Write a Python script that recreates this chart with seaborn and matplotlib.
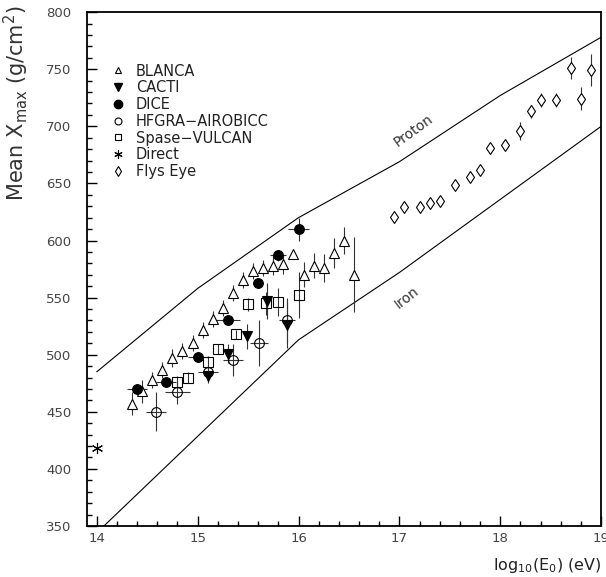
import matplotlib
matplotlib.use('Agg')
import matplotlib.pyplot as plt
import seaborn as sns
from matplotlib.lines import Line2D
from matplotlib.ticker import MultipleLocator

# --- model curves ---
proton_x = [14.0, 15.0, 16.0, 17.0, 18.0, 19.0]
proton_y = [485, 558, 620, 669, 727, 778]
iron_x = [14.0, 16.0, 17.0, 18.0, 19.0]
iron_y = [344, 513, 572, 636, 700]

# --- measurements ---
blanca_x = [14.35, 14.45, 14.55, 14.65, 14.75, 14.85, 14.95, 15.05, 15.15, 15.25, 15.35, 15.45,
            15.55, 15.65, 15.75, 15.85, 15.95, 16.05, 16.15, 16.25, 16.35, 16.45, 16.55]
blanca_y = [457, 468, 478, 487, 497, 503, 510, 522, 531, 541, 554, 565,
            573, 576, 578, 579, 588, 570, 578, 576, 589, 600, 570]
blanca_err = [10, 10, 7, 7, 8, 7, 7, 7, 7, 7, 7, 7,
              7, 7, 8, 8, 3, 11, 11, 12, 13, 12, 33]

cacti_x = [15.10, 15.30, 15.49, 15.69, 15.89]
cacti_y = [481, 501, 516, 547, 526]
cacti_err = [6, 8, 11, 16, 20]

dice_x = [14.40, 14.69, 15.00, 15.30, 15.60, 15.80, 16.00]
dice_y = [470, 476, 498, 530, 563, 587, 610]
dice_xerr = [0.10, 0.10, 0.10, 0.12, 0.0, 0.08, 0.10]
dice_err = [3, 3, 3, 3, 3, 5, 10]

hegra_x = [14.59, 14.80, 15.10, 15.35, 15.61, 15.89]
hegra_y = [450, 467, 485, 495, 510, 530]
hegra_xerr = [0.10, 0.12, 0.10, 0.10, 0.09, 0.08]
hegra_err = [17, 10, 5, 14, 20, 20]

spase_x = [14.80, 14.90, 15.10, 15.20, 15.38, 15.50, 15.68, 15.80, 16.00]
spase_y = [476, 480, 494, 505, 518, 544, 545, 546, 552]
spase_err = [5, 5, 5, 4, 4, 6, 10, 12, 20]

direct_x = [14.0]
direct_y = [418]

flys_x = [16.95, 17.05, 17.20, 17.30, 17.40, 17.55, 17.70, 17.80, 17.90, 18.05, 18.20, 18.30,
          18.40, 18.55, 18.70, 18.80, 18.90]
flys_y = [621, 629, 629, 633, 635, 649, 656, 662, 681, 684, 696, 713,
          723, 723, 751, 724, 749]
flys_err = [2, 2, 2, 2, 2, 2, 2, 2, 3, 4, 8, 6, 6, 6, 10, 10, 14]

series_labels = ['BLANCA', 'CACTI', 'DICE', 'HFGRA\u2212AIROBICC', 'Spase\u2212VULCAN', 'Direct', 'Flys Eye']

sns.set_style('ticks')
plt.rcParams['font.family'] = ['DejaVu Sans']
plt.rcParams['mathtext.default'] = 'regular'

fig = plt.figure(figsize=(6.06, 5.77), dpi=100)
ax = fig.add_axes([0.143, 0.0884, 0.849, 0.8906])

sns.lineplot(x=proton_x, y=proton_y, sort=False, estimator=None, color='black', lw=0.8, ax=ax)
sns.lineplot(x=iron_x, y=iron_y, sort=False, estimator=None, color='black', lw=0.8, ax=ax)

star = (6, 2, 0)
ebar = dict(ecolor='#333333', elinewidth=0.8, capsize=0, linestyle='none', mec='black', mew=0.8)
ax.errorbar(blanca_x, blanca_y, yerr=blanca_err, fmt='^', ms=7, mfc='white', **ebar)
ax.errorbar(cacti_x, cacti_y, yerr=cacti_err, fmt='v', ms=7, mfc='black', **ebar)
ax.errorbar(hegra_x, hegra_y, xerr=hegra_xerr, yerr=hegra_err, fmt='o', ms=7, mfc='none', **ebar)
ax.errorbar(spase_x, spase_y, yerr=spase_err, fmt='s', ms=6.5, mfc='none', **ebar)
ax.errorbar(dice_x, dice_y, xerr=dice_xerr, yerr=dice_err, fmt='o', ms=7, mfc='black', **ebar)
ax.plot(direct_x, direct_y, marker=star, ms=8, ls='none', mec='black', mew=0.8)
ax.errorbar(flys_x, flys_y, yerr=flys_err, fmt='d', ms=6, mfc='white', **ebar)

ax.text(17.14, 696, 'Proton', rotation=36, ha='center', va='center', fontsize=10, color='#333333')
ax.text(17.07, 550, 'Iron', rotation=38, ha='center', va='center', fontsize=10, color='#333333')

handles = [
    Line2D([], [], marker='^', ls='none', ms=5, mfc='white', mec='black', mew=0.8),
    Line2D([], [], marker='v', ls='none', ms=6, mfc='black', mec='black'),
    Line2D([], [], marker='o', ls='none', ms=6, mfc='black', mec='black'),
    Line2D([], [], marker='o', ls='none', ms=5, mfc='none', mec='black', mew=0.8),
    Line2D([], [], marker='s', ls='none', ms=5, mfc='none', mec='black', mew=0.8),
    Line2D([], [], marker=star, ls='none', ms=6, mec='black', mew=0.8),
    Line2D([], [], marker='d', ls='none', ms=5, mfc='none', mec='black', mew=0.8),
]
ax.legend(handles, series_labels, loc='upper left', bbox_to_anchor=(0.046, 0.9), frameon=False,
          fontsize=10.5, handlelength=1.0, handletextpad=0.75, labelspacing=0.12, borderpad=0,
          borderaxespad=0, labelcolor='#222222')

ax.set_xlim(13.9, 19.0)
ax.set_ylim(350, 800)
ax.xaxis.set_major_locator(MultipleLocator(1))
ax.xaxis.set_minor_locator(MultipleLocator(0.2))
ax.yaxis.set_major_locator(MultipleLocator(50))
ax.yaxis.set_minor_locator(MultipleLocator(10))
ax.tick_params(which='both', direction='in', top=False, right=False, width=1, color='black')
ax.tick_params(which='major', length=7)
ax.tick_params(which='minor', length=3.5)
ax.tick_params(axis='x', which='major', pad=4, labelsize=9.5, labelcolor='#444444')
ax.tick_params(axis='y', which='major', pad=11, labelsize=9.5, labelcolor='#444444')
for s in ax.spines.values():
    s.set_linewidth(1.3)
    s.set_color('black')

ax.set_xlabel(r'log$_{10}$(E$_0$) (eV)', loc='right', fontsize=11.5, color='#222222', labelpad=8)
ax.set_ylabel(r'Mean X$_{\rm max}$ (g/cm$^2$)', loc='top', fontsize=15, color='#333333')
ax.yaxis.set_label_coords(-0.108, 1.013)

fig.savefig('out.png', dpi=100)
